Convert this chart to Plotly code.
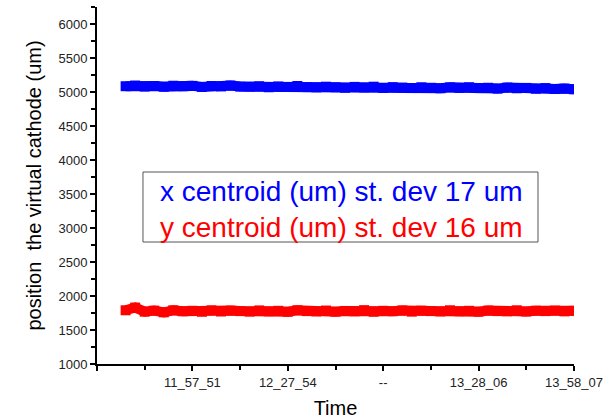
import plotly.graph_objects as go

# sample positions along the time axis (axis units: major tick = 1)
time_pos = [0.3, 0.4, 0.5, 0.6, 0.7, 0.8, 0.9, 1.0, 1.1, 1.2, 1.3, 1.4, 1.5, 1.6, 1.7, 1.8,
            1.9, 2.0, 2.1, 2.2, 2.3, 2.4, 2.5, 2.6, 2.7, 2.8, 2.9, 3.0, 3.1, 3.2, 3.3, 3.4,
            3.5, 3.6, 3.7, 3.8, 3.9, 4.0, 4.1, 4.2, 4.3, 4.4, 4.5, 4.6, 4.7, 4.8, 4.9, 5.0]

x_centroid = [5085, 5095, 5080, 5088, 5078, 5092, 5085, 5090, 5075, 5088, 5082, 5095, 5080, 5078, 5085, 5070,
              5082, 5075, 5088, 5072, 5068, 5078, 5070, 5062, 5075, 5068, 5078, 5060, 5072, 5065, 5058, 5070,
              5062, 5055, 5068, 5060, 5070, 5058, 5062, 5050, 5065, 5055, 5060, 5048, 5058, 5045, 5050, 5040]

y_centroid = [1790, 1830, 1770, 1785, 1760, 1790, 1775, 1782, 1768, 1790, 1772, 1785, 1778, 1770, 1788, 1775,
              1782, 1768, 1790, 1778, 1772, 1786, 1770, 1780, 1775, 1792, 1768, 1782, 1776, 1788, 1770, 1784,
              1778, 1772, 1790, 1776, 1782, 1770, 1786, 1778, 1774, 1790, 1772, 1784, 1778, 1786, 1774, 1782]

x_tickvals = [0, 1, 2, 3, 4, 5]
x_ticktext = ["", "11_57_51", "12_27_54", "--", "13_28_06", "13_58_07"]
x_minorvals = [0.5, 1.5, 2.5, 3.5, 4.5]

legend_lines = ["x centroid (um) st. dev 17 um", "y centroid (um) st. dev 16 um"]

FONT = "Liberation Sans, Arial, sans-serif"

fig = go.Figure()
fig.add_trace(go.Scatter(x=time_pos, y=x_centroid, mode="lines+markers",
                         line=dict(color="#0000FF", width=10),
                         marker=dict(symbol="square", size=10, color="#0000FF"),
                         showlegend=False))
fig.add_trace(go.Scatter(x=time_pos, y=y_centroid, mode="lines+markers",
                         line=dict(color="#FF0000", width=10),
                         marker=dict(symbol="square", size=10, color="#FF0000"),
                         showlegend=False))

fig.update_layout(
    width=609, height=419,
    margin=dict(l=97, r=35, t=7, b=55),
    paper_bgcolor="white", plot_bgcolor="white",
    font=dict(family=FONT, color="#222222"),
    xaxis=dict(range=[0, 5], tickmode="array", tickvals=x_tickvals, ticktext=x_ticktext,
               automargin=False,
               ticks="outside", ticklen=5, tickwidth=1.5, tickcolor="black",
               showline=True, linecolor="black", linewidth=2, showgrid=False, zeroline=False,
               tickfont=dict(size=13, color="#222222"),
               minor=dict(tickmode="array", tickvals=x_minorvals, ticks="outside", ticklen=4,
                          tickcolor="black", tickwidth=1.5, showgrid=False),
               title=dict(text="Time", font=dict(size=20, color="black"), standoff=16)),
    yaxis=dict(range=[1000, 6250], tickmode="linear", tick0=1000, dtick=500,
               automargin=False,
               ticks="outside", ticklen=5, tickwidth=1.5, tickcolor="black",
               showline=True, linecolor="black", linewidth=2, showgrid=False, zeroline=False,
               tickfont=dict(size=13, color="#222222"),
               minor=dict(dtick=250, ticks="outside", ticklen=4, tickcolor="black",
                          tickwidth=1.5, showgrid=False),
               title=dict(text="position  the virtual cathode (um)",
                          font=dict(size=20, color="black"), standoff=11)),
)

# legend box
fig.add_shape(type="rect", xref="paper", yref="paper",
              x0=0.0964, x1=0.9245, y0=0.3417, y1=0.5378,
              line=dict(color="#555555", width=1), fillcolor="white", layer="above")

fig.add_annotation(
    xref="paper", yref="paper", x=0.1279, y=0.4328, xanchor="left", yanchor="middle",
    text=(f"<span style='color:#0000FF'>{legend_lines[0]}</span><br>"
          f"<span style='color:#FF0000'>{legend_lines[1]}</span>"),
    showarrow=False, align="left", font=dict(size=28, family=FONT),
)

fig.write_html("out.html")
